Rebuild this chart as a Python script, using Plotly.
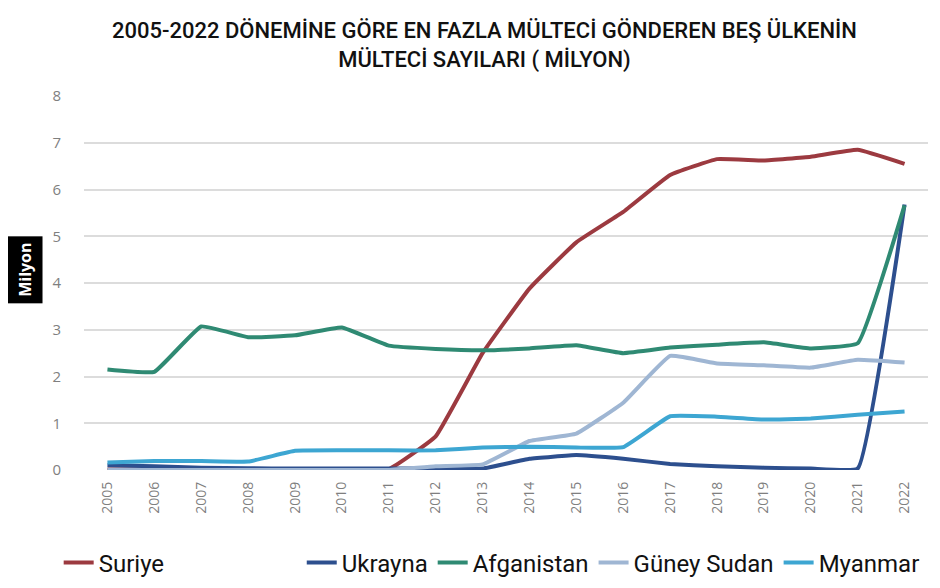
import plotly.graph_objects as go

years = [str(y) for y in range(2005, 2023)]
suriye = [0.01, 0.01, 0.01, 0.01, 0.01, 0.02, 0.02, 0.72, 2.50, 3.88, 4.87, 5.52, 6.31, 6.65, 6.62, 6.70, 6.85, 6.55]
ukrayna = [0.10, 0.08, 0.05, 0.04, 0.03, 0.03, 0.03, 0.03, 0.03, 0.24, 0.32, 0.24, 0.13, 0.08, 0.05, 0.03, 0.03, 5.68]
afganistan = [2.15, 2.10, 3.07, 2.84, 2.88, 3.05, 2.66, 2.59, 2.56, 2.60, 2.67, 2.50, 2.62, 2.68, 2.73, 2.60, 2.71, 5.66]
guney_sudan = [0.0, 0.0, 0.0, 0.0, 0.0, 0.0, 0.0, 0.08, 0.12, 0.62, 0.78, 1.44, 2.44, 2.28, 2.24, 2.19, 2.36, 2.30]
myanmar = [0.16, 0.19, 0.19, 0.18, 0.41, 0.42, 0.42, 0.42, 0.48, 0.50, 0.48, 0.49, 1.15, 1.14, 1.08, 1.10, 1.18, 1.25]

series = [
    ("Suriye", suriye, "#9c3a40", "legend"),
    ("Ukrayna", ukrayna, "#2d4f8e", "legend2"),
    ("Afganistan", afganistan, "#2f8a73", "legend2"),
    ("Güney Sudan", guney_sudan, "#9fb6d3", "legend2"),
    ("Myanmar", myanmar, "#3da6d2", "legend2"),
]

TITLE_FONT = "Roboto, Liberation Sans, sans-serif"

fig = go.Figure()
for name, vals, color, lg in series:
    fig.add_trace(go.Scatter(
        x=years, y=vals, name=name, mode="lines", legend=lg,
        line=dict(color=color, width=4, shape="spline", smoothing=0.3),
    ))

legend_common = dict(
    orientation="h", yanchor="middle", y=-0.245,
    font=dict(family=TITLE_FONT, size=24, color="#111111"),
    tracegroupgap=0, bgcolor="rgba(0,0,0,0)",
)

fig.update_layout(
    width=940, height=588,
    paper_bgcolor="white", plot_bgcolor="white",
    margin=dict(l=76, r=20, t=88, b=125),
    xaxis=dict(
        type="category", range=[-0.5, 17.5],
        tickangle=-90, showgrid=False, zeroline=False, showline=False,
        tickfont=dict(family="Open Sans, sans-serif", size=14, color="#7f7f7f"),
        ticks="", ticklabelstandoff=8,
    ),
    yaxis=dict(
        range=[0, 8], dtick=1, showgrid=True, gridcolor="#dcdcdc", gridwidth=2,
        zeroline=False, showline=False,
        tickfont=dict(family="Open Sans, sans-serif", size=15, color="#7f7f7f"),
        ticklabelstandoff=22,
    ),
    legend=dict(x=-0.03, xanchor="left", **legend_common),
    legend2=dict(x=0.258, xanchor="left", **legend_common),
    showlegend=True,
)

fig.add_annotation(
    text="2005-2022 DÖNEMİNE GÖRE EN FAZLA MÜLTECİ GÖNDEREN BEŞ ÜLKENİN<br>MÜLTECİ SAYILARI ( MİLYON)",
    xref="paper", yref="paper", x=0.475, y=1.135,
    xanchor="center", yanchor="middle", showarrow=False,
    font=dict(family=TITLE_FONT, size=22, color="#111111", weight=500),
)

fig.add_annotation(
    text="<b>Milyon</b>", textangle=-90, xref="paper", yref="paper",
    x=-0.07, y=0.535, xanchor="center", yanchor="middle", showarrow=False,
    font=dict(family="Open Sans, DejaVu Sans, sans-serif", size=16, color="white"),
    bgcolor="black", borderpad=6,
)

fig.write_html("out.html")
